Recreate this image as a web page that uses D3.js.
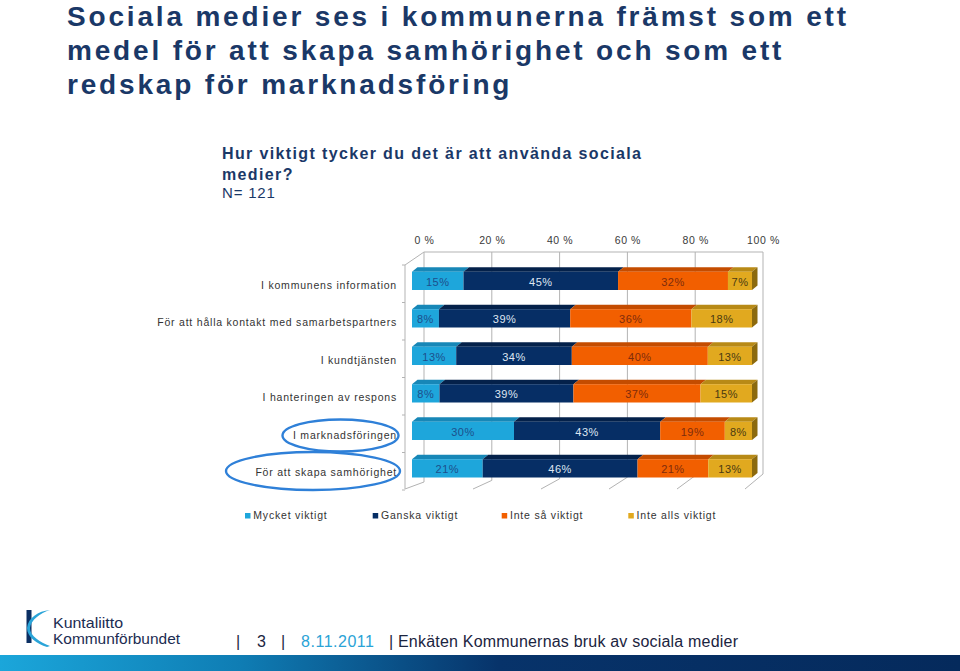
<!DOCTYPE html>
<html><head><meta charset="utf-8">
<script src="https://cdn.jsdelivr.net/npm/d3@7/dist/d3.min.js"></script>
<style>
html,body{margin:0;padding:0;background:#fff;}
svg{display:block;font-family:Arial,"Liberation Sans",sans-serif;}
</style></head>
<body>
<svg id="c" width="960" height="671"></svg>
<script>
// ---- data ----
const categories = ["I kommunens information","För att hålla kontakt med samarbetspartners","I kundtjänsten","I hanteringen av respons","I marknadsföringen","För att skapa samhörighet"];
const seriesNames = ["Mycket viktigt","Ganska viktigt","Inte så viktigt","Inte alls viktigt"];
const mycketViktigt = [15,8,13,8,30,21];
const ganskaViktigt = [45,39,34,39,43,46];
const inteSaViktigt = [32,36,40,37,19,21];
const inteAllsViktigt = [7,18,13,15,8,13];
const axisTicks = [0,20,40,60,80,100];
const titleLines = ["Sociala medier ses i kommunerna främst som ett","medel för att skapa samhörighet och som ett","redskap för marknadsföring"];
const subtitleLines = ["Hur viktigt tycker du det är att använda sociala","medier?"];
const nText = "N= 121";
const highlighted = ["I marknadsföringen","För att skapa samhörighet"];

const frontColors = ["#1ea6db","#062e65","#f25f00","#e1a91f"];
const topColors = ["#1787b7","#04214a","#c44c00","#b88a16"];
const sideColor = "#8c6a0e";
const labelColors = ["#1d4f8c","#dfe6f2","#7e2c0c","#4a3a12"];

const svg = d3.select("#c");
const navy = "#1a3867";

function fitSpacing(sel, target){
  sel.attr("letter-spacing",0);
  const n = sel.text().length;
  const w = sel.node().getComputedTextLength();
  const ls = (target - w)/(n-1);
  sel.attr("letter-spacing", ls);
  return ls;
}

// ---- title ----
const tl = svg.append("g").selectAll("text").data(titleLines).join("text")
  .attr("x",67).attr("y",(d,i)=>26+i*34)
  .attr("font-size",28).attr("font-weight","bold").attr("fill",navy).text(d=>d);
const tls = fitSpacing(d3.select(tl.nodes()[0]), 779);
tl.attr("letter-spacing", tls);

// ---- subtitle ----
const st = svg.selectAll(".sub").data(subtitleLines).join("text").attr("class","sub")
  .attr("x",222).attr("y",(d,i)=>159+i*21)
  .attr("font-size",16).attr("font-weight","bold").attr("fill",navy).text(d=>d);
const sls = fitSpacing(d3.select(st.nodes()[0]), 419);
st.attr("letter-spacing", sls);
svg.append("text").attr("x",222).attr("y",198).attr("font-size",15).attr("fill",navy)
  .attr("letter-spacing",0.8).text(nText);

// ---- scales ----
const xBack = d3.scaleLinear([0,100],[424,763]);
const xFloor = d3.scaleLinear([0,100],[405,745]);
const yBackBottom = d3.scaleLinear([0,100],[482,474]);
const xBar = d3.scaleLinear([0,1],[412,752]);
const y = d3.scaleBand(categories,[265,490]);
const barOff = 6.7, barH = 18.3, dx = 5.5, dy = 4.5;
const grid = "#b3b3b3";

// walls / grid
const wall = svg.append("g").attr("stroke",grid).attr("fill","none").attr("stroke-width",1);
wall.append("line").attr("x1",xBack(0)).attr("y1",252).attr("x2",xBack(100)).attr("y2",252);
wall.selectAll(".gv").data(axisTicks).join("line").attr("class","gv")
  .attr("x1",d=>xBack(d)).attr("x2",d=>xBack(d)).attr("y1",252).attr("y2",d=>yBackBottom(d));
wall.selectAll(".gf").data(axisTicks).join("line").attr("class","gf")
  .attr("x1",d=>xBack(d)).attr("y1",d=>yBackBottom(d)).attr("x2",d=>xFloor(d)).attr("y2",489);
wall.append("line").attr("x1",405).attr("y1",265).attr("x2",xBack(0)).attr("y2",252);
// left category axis
wall.append("line").attr("x1",405).attr("y1",265).attr("x2",405).attr("y2",489);
const bounds = categories.map(c=>y(c)).concat([y.range()[1]]);
wall.selectAll(".tk").data(bounds).join("line").attr("class","tk")
  .attr("x1",402).attr("x2",405).attr("y1",d=>d).attr("y2",d=>d);

// top value axis
const ax = svg.append("g").attr("transform","translate(0,252)")
  .call(d3.axisTop(xBack).tickValues(axisTicks).tickFormat(d=>d+" %").tickSize(0).tickPadding(7.7));
ax.select(".domain").remove();
ax.selectAll("text").attr("font-size",10.5).attr("fill","#3a3a3a").attr("letter-spacing",0.6)
  .attr("font-family","Arial, 'Liberation Sans', sans-serif");

// ---- bars ----
const rows = categories.map((c,i)=>{
  const vals = [mycketViktigt[i],ganskaViktigt[i],inteSaViktigt[i],inteAllsViktigt[i]];
  const sum = d3.sum(vals);
  let acc = 0;
  return vals.map((v,k)=>{ const s = {cat:c,k,v,x0:acc/sum,x1:(acc+v)/sum}; acc+=v; return s; });
});
const bars = svg.append("g");
rows.forEach(segs=>{
  const g = bars.append("g");
  const yt = y(segs[0].cat)+barOff, yb = yt+barH;
  g.selectAll(".top").data(segs).join("path").attr("class","top")
    .attr("fill",d=>topColors[d.k])
    .attr("d",d=>`M${xBar(d.x0)},${yt}L${xBar(d.x1)},${yt}L${xBar(d.x1)+dx},${yt-dy}L${xBar(d.x0)+dx},${yt-dy}Z`);
  const last = segs[segs.length-1];
  g.append("path").attr("fill",sideColor)
    .attr("d",`M${xBar(last.x1)},${yt}L${xBar(last.x1)+dx},${yt-dy}L${xBar(last.x1)+dx},${yb-dy}L${xBar(last.x1)},${yb}Z`);
  g.selectAll(".front").data(segs).join("rect").attr("class","front")
    .attr("x",d=>xBar(d.x0)).attr("y",yt).attr("width",d=>xBar(d.x1)-xBar(d.x0)).attr("height",barH)
    .attr("fill",d=>frontColors[d.k]);
  g.selectAll(".lbl").data(segs).join("text").attr("class","lbl")
    .attr("x",d=>(xBar(d.x0)+xBar(d.x1))/2).attr("y",yt+14)
    .attr("text-anchor","middle").attr("font-size",11).attr("letter-spacing",0.5)
    .attr("fill",d=>labelColors[d.k]).text(d=>d.v+"%");
});

// ---- category labels ----
const cl = svg.append("g").selectAll("text").data(categories).join("text")
  .attr("x",397).attr("y",d=>y(d)+barOff+17).attr("text-anchor","end")
  .attr("font-size",10.5).attr("fill","#333").text(d=>d);
const cls = fitSpacing(d3.select(cl.nodes()[1]), 239);
cl.attr("letter-spacing", cls);

// highlight ellipses
const ell = [{cx:340.5,cy:435.5,rx:58,ry:16},{cx:313,cy:471,rx:87,ry:19}];
svg.append("g").selectAll("ellipse").data(highlighted.map((h,i)=>ell[i])).join("ellipse")
  .attr("cx",d=>d.cx).attr("cy",d=>d.cy).attr("rx",d=>d.rx).attr("ry",d=>d.ry)
  .attr("fill","none").attr("stroke","#2f80d8").attr("stroke-width",2.4);

// ---- legend ----
const legX = [245,372.7,501.7,628.3];
const lg = svg.append("g").selectAll("g").data(seriesNames).join("g")
  .attr("transform",(d,i)=>`translate(${legX[i]},519)`);
lg.append("rect").attr("x",0).attr("y",-6).attr("width",5.5).attr("height",5.5).attr("fill",(d,i)=>frontColors[i]);
lg.append("text").attr("x",8.3).attr("y",0).attr("font-size",10.5).attr("fill","#333")
  .attr("letter-spacing",0.8).text(d=>d);

// ---- footer ----
const defs = svg.append("defs");
const gr = defs.append("linearGradient").attr("id","fg").attr("x1","0").attr("x2","1").attr("y1","0").attr("y2","0");
gr.append("stop").attr("offset","0").attr("stop-color","#1ba6da");
gr.append("stop").attr("offset","0.25").attr("stop-color","#0f7db4");
gr.append("stop").attr("offset","0.52").attr("stop-color","#07336a");
gr.append("stop").attr("offset","1").attr("stop-color","#052a5c");
svg.append("rect").attr("x",0).attr("y",655).attr("width",960).attr("height",16).attr("fill","url(#fg)");

// logo
svg.append("rect").attr("x",26.5).attr("y",610).attr("width",5).attr("height",33).attr("fill","#0b2f63");
svg.append("path").attr("fill","#2aa4d8")
  .attr("d","M50,610 C40,613 31,620 30,628 C30,636 40,642 50,646 L47,647 C37,644 27,637 27,628 C28,618 38,611 50,610 Z");
svg.append("text").attr("x",53).attr("y",628).attr("font-size",15).attr("fill","#1b2c52")
  .attr("textLength",70).attr("lengthAdjust","spacingAndGlyphs").text("Kuntaliitto");
svg.append("text").attr("x",53).attr("y",644).attr("font-size",15).attr("fill","#1b2c52")
  .attr("textLength",127).attr("lengthAdjust","spacingAndGlyphs").text("Kommunförbundet");

const foot = [
  {t:"|",x:236,c:"#1b2440"},{t:"3",x:257,c:"#1b2440"},{t:"|",x:281,c:"#1b2440"},
  {t:"8.11.2011",x:301,c:"#2aa3d6",w:73},{t:"|",x:389,c:"#1b2440"},
  {t:"Enkäten Kommunernas bruk av sociala medier",x:398,c:"#1b2440",w:340}
];
svg.append("g").selectAll("text").data(foot).join("text")
  .attr("x",d=>d.x).attr("y",647).attr("font-size",16).attr("fill",d=>d.c)
  .each(function(d){ if(d.w){ fitSpacing(d3.select(this).text(d.t), d.w);} })
  .text(d=>d.t);
</script>
</body></html>
